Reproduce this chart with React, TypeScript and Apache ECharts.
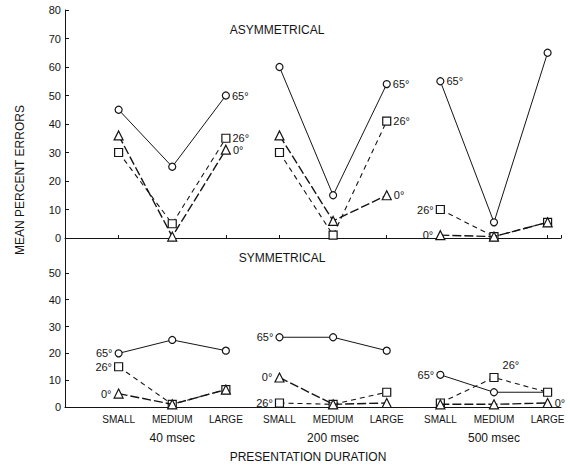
import React, { useEffect, useRef } from "react";
import * as echarts from "echarts";

const sizeLabels = ["SMALL", "MEDIUM", "LARGE"];
const durationLabels = ["40 msec", "200 msec", "500 msec"];
const angleLabels = ["65°", "26°", "0°"];
const yTicksTop = [0, 10, 20, 30, 40, 50, 60, 70, 80];
const yTicksBottom = [0, 10, 20, 30, 40, 50];

// Asymmetrical panel (9 positions: 3 sizes x 3 durations)
const asymCircle65 = [45, 25, 50, 60, 15, 54, 55, 5.5, 65];
const asymSquare26 = [30, 5, 35, 30, 1, 41, 10, 0.5, 5.5];
const asymTriangle0 = [36, 0.5, 31, 36, 6, 15, 1, 0.5, 5.5];

// Symmetrical panel
const symCircle65 = [20, 25, 21, 26, 26, 21, 12, 5.5, 5.5];
const symSquare26 = [15, 1, 6.5, 1.5, 1, 5.5, 1.5, 11, 5.5];
const symTriangle0 = [5, 1, 6.5, 11, 1, 1.5, 1, 1, 1.5];

const INK = "#141414";
const FONT = "Liberation Sans";

type Ann = { idx: number; pos: string; off?: [number, number] };

export default function App() {
  const ref = useRef<HTMLDivElement>(null);
  useEffect(() => {
    if (!ref.current) return;
    const chart = echarts.init(ref.current, undefined, { renderer: "svg" });

    const markerDefs = [
      { symbol: "circle", size: 7, line: { type: "solid", width: 1 } },
      { symbol: "rect", size: 8, line: { type: [5, 4], width: 1.1 } },
      { symbol: "triangle", size: 9, line: { type: [9, 3], width: 1.4 } },
    ];

    const panels = [
      {
        grid: 0,
        data: [asymCircle65, asymSquare26, asymTriangle0],
        ann: [
          [{ idx: 2, pos: "right" }, { idx: 5, pos: "right" }, { idx: 6, pos: "right" }],
          [{ idx: 2, pos: "right" }, { idx: 5, pos: "right" }, { idx: 6, pos: "left" }],
          [{ idx: 2, pos: "right" }, { idx: 5, pos: "right" }, { idx: 6, pos: "left" }],
        ] as Ann[][],
      },
      {
        grid: 1,
        data: [symCircle65, symSquare26, symTriangle0],
        ann: [
          [{ idx: 0, pos: "left" }, { idx: 3, pos: "left" }, { idx: 6, pos: "left" }],
          [{ idx: 0, pos: "left" }, { idx: 3, pos: "left" }, { idx: 7, pos: "right", off: [2, -12] }],
          [{ idx: 0, pos: "left" }, { idx: 3, pos: "left" }, { idx: 8, pos: "right" }],
        ] as Ann[][],
      },
    ];

    const labelBase = {
      color: INK,
      fontSize: 11,
      fontFamily: FONT,
      textBorderWidth: 0,
      textBorderColor: "transparent",
    };

    const series: any[] = [];
    panels.forEach((p) => {
      p.data.forEach((vals, m) => {
        const def = markerDefs[m];
        for (let g = 0; g < 3; g++) {
          const pts: any[] = [];
          for (let i = 0; i < 3; i++) {
            const k = g * 3 + i;
            const a = p.ann[m].find((q) => q.idx === k);
            const item: any = { value: [k + 1, vals[k]] };
            if (a) {
              item.label = {
                ...labelBase,
                show: true,
                formatter: angleLabels[m],
                position: a.pos,
                offset: a.off || [0, 0],
                distance: 2,
              };
            }
            pts.push(item);
          }
          series.push({
            type: "line",
            xAxisIndex: p.grid === 0 ? 0 : 1,
            yAxisIndex: p.grid,
            data: pts,
            symbol: def.symbol,
            symbolSize: def.size,
            showAllSymbol: true,
            label: { ...labelBase, show: false },
            lineStyle: { color: INK, width: def.line.width, type: def.line.type },
            itemStyle: { color: "#fff", borderColor: INK, borderWidth: 1.2 },
            emphasis: { disabled: true },
            z: 3 + m,
          });
        }
      });
    });

    const axisText = { color: INK, fontSize: 11, fontFamily: FONT };

    chart.setOption({
      animation: false,
      backgroundColor: "#fff",
      grid: [
        { left: 65, right: 9, top: 10, height: 228 },
        { left: 65, right: 9, top: 238, height: 169 },
      ],
      xAxis: [
        {
          type: "value",
          gridIndex: 0,
          min: 0,
          max: 9.25,
          interval: 1,
          splitLine: { show: false },
          axisLine: { show: true, onZero: false, lineStyle: { color: INK, width: 1.2 } },
          axisTick: { show: true, inside: true, length: 3, lineStyle: { color: INK } },
          axisLabel: { show: false },
        },
        {
          type: "value",
          gridIndex: 1,
          min: 0,
          max: 9.25,
          interval: 1,
          splitLine: { show: false },
          axisLine: { show: true, onZero: false, lineStyle: { color: INK, width: 1.2 } },
          axisTick: { show: false },
          axisLabel: {
            ...axisText,
            fontSize: 10,
            margin: 7,
            showMaxLabel: false,
            formatter: (v: number) =>
              Number.isInteger(v) && v >= 1 && v <= 9 ? sizeLabels[(v - 1) % 3] : "",
          },
        },
        {
          type: "value",
          gridIndex: 1,
          position: "bottom",
          min: 0,
          max: 9.25,
          interval: 1,
          splitLine: { show: false },
          axisLine: { show: false },
          axisTick: { show: false },
          axisLabel: {
            ...axisText,
            fontSize: 12,
            margin: 25,
            showMaxLabel: false,
            formatter: (v: number) =>
              v === 2 || v === 5 || v === 8 ? durationLabels[(v - 2) / 3] : "",
          },
        },
      ],
      yAxis: [
        {
          type: "value",
          gridIndex: 0,
          min: yTicksTop[0],
          max: yTicksTop[yTicksTop.length - 1],
          interval: 10,
          splitLine: { show: false },
          axisLine: { show: true, lineStyle: { color: INK, width: 1 } },
          axisTick: { show: true, inside: true, length: 4, lineStyle: { color: INK } },
          axisLabel: { ...axisText, margin: 4 },
        },
        {
          type: "value",
          gridIndex: 1,
          min: 0,
          max: 63,
          interval: 10,
          splitLine: { show: false },
          axisLine: { show: true, lineStyle: { color: INK, width: 1 } },
          axisTick: {
            show: true,
            inside: true,
            length: 4,
            customValues: yTicksBottom,
            lineStyle: { color: INK },
          },
          axisLabel: {
            ...axisText,
            margin: 4,
            customValues: yTicksBottom,
            hideOverlap: false,
            formatter: (v: number) => (yTicksBottom.includes(v) ? String(v) : ""),
          },
        },
      ],
      graphic: [
        {
          type: "text",
          x: 277,
          y: 30,
          style: { text: "ASYMMETRICAL", fill: INK, font: `12px "${FONT}"`, align: "center", verticalAlign: "middle" },
        },
        {
          type: "text",
          x: 282,
          y: 258,
          style: { text: "SYMMETRICAL", fill: INK, font: `12px "${FONT}"`, align: "center", verticalAlign: "middle" },
        },
        {
          type: "text",
          x: 308,
          y: 457,
          style: { text: "PRESENTATION DURATION", fill: INK, font: `12px "${FONT}"`, align: "center", verticalAlign: "middle" },
        },
        {
          type: "text",
          x: 20,
          y: 180,
          rotation: Math.PI / 2,
          style: { text: "MEAN PERCENT ERRORS", fill: INK, font: `12px "${FONT}"`, align: "center", verticalAlign: "middle" },
        },
      ],
      series,
    });
    return () => chart.dispose();
  }, []);
  return (
    <div
      ref={ref}
      style={{ position: "fixed", left: 0, top: 0, width: 570, height: 467, background: "#fff" }}
    />
  );
}
